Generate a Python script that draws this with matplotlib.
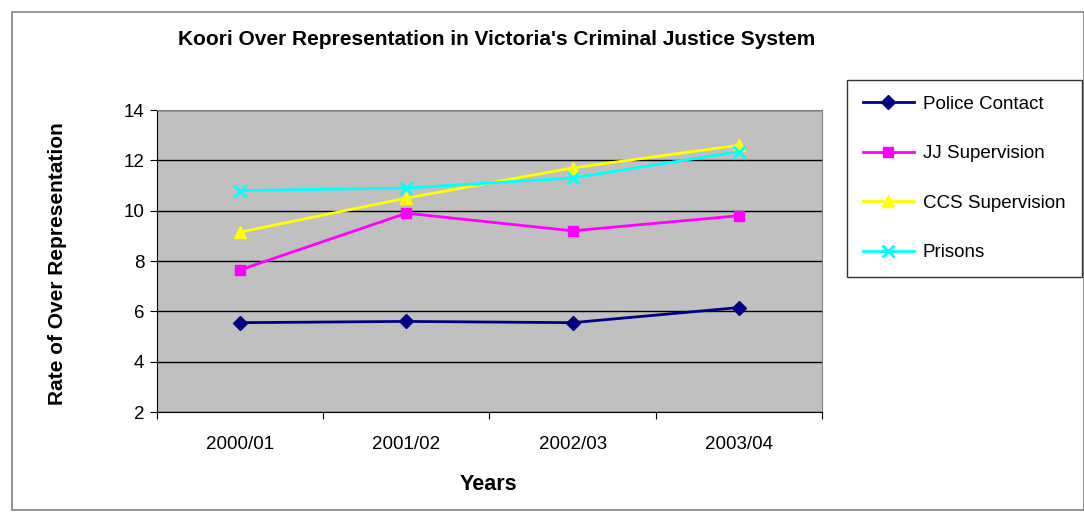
import matplotlib.pyplot as plt
from matplotlib.patches import Rectangle
from matplotlib.lines import Line2D

plt.rcParams['font.family'] = ['Liberation Sans', 'DejaVu Sans']

years = ['2000/01', '2001/02', '2002/03', '2003/04']
police_contact = [5.55, 5.6, 5.55, 6.15]
jj_supervision = [7.65, 9.9, 9.2, 9.8]
ccs_supervision = [9.15, 10.5, 11.7, 12.6]
prisons = [10.8, 10.9, 11.3, 12.35]

series = [
    ('Police Contact', police_contact, '#000080', 'D', 7),
    ('JJ Supervision', jj_supervision, '#ff00ff', 's', 7),
    ('CCS Supervision', ccs_supervision, '#ffff00', '^', 8),
    ('Prisons', prisons, '#00ffff', 'x', 8),
]

fig = plt.figure(figsize=(10.84, 5.12), dpi=100)
fig.patches.append(Rectangle((0.011, 0.004), 0.989, 0.972, transform=fig.transFigure,
                             fill=False, edgecolor='#808080', linewidth=1.2))

ax = fig.add_axes([0.1448, 0.1953, 0.6135, 0.5898])
ax.set_facecolor('#c0c0c0')

x = range(len(years))
for name, vals, color, marker, ms in series:
    ax.plot(x, vals, color=color, marker=marker, markersize=ms, linewidth=2,
            markeredgewidth=2 if marker == 'x' else 1, label=name)

ax.set_xlim(-0.5, 3.5)
ax.set_ylim(2, 14)
ax.set_yticks(range(2, 15, 2))
ax.yaxis.grid(True, color='black', linewidth=1)
ax.set_axisbelow(True)

# category labels centered, tick marks between categories
ax.set_xticks([-0.5, 0.5, 1.5, 2.5, 3.5])
ax.set_xticklabels([])
ax.set_xticks(list(x), minor=True)
ax.set_xticklabels(years, minor=True, fontsize=13.5)
ax.tick_params(axis='x', which='minor', length=0, pad=17)
ax.tick_params(axis='x', which='major', length=5, color='black')
ax.tick_params(axis='y', length=5, labelsize=13.5, pad=4)

for side in ['top', 'right']:
    ax.spines[side].set_color('#808080')
for side in ['left', 'bottom']:
    ax.spines[side].set_color('black')

ax.set_xlabel('Years', fontsize=15.5, fontweight='bold')
ax.xaxis.set_label_coords(0.499, -0.205)
ax.set_ylabel('Rate of Over Representation', fontsize=15, fontweight='bold')
ax.yaxis.set_label_coords(-0.135, 0.49)
fig.text(0.458, 0.922, "Koori Over Representation in Victoria's Criminal Justice System",
         ha='center', va='center', fontsize=15, fontweight='bold')

handles = [Line2D([], [], color=c, marker=m, markersize=ms, linewidth=2,
                  markeredgewidth=2 if m == 'x' else 1)
           for _, _, c, m, ms in series]
leg = fig.legend(handles, [s[0] for s in series], loc='upper left',
                 bbox_to_anchor=(0.7814, 0.8438), fontsize=13.5, frameon=True,
                 fancybox=False, edgecolor='black', labelspacing=1.72,
                 handlelength=2.7, borderpad=0.85, handletextpad=0.5,
                 borderaxespad=0)
leg.get_frame().set_linewidth(1)

fig.savefig('out.png', dpi=100)
